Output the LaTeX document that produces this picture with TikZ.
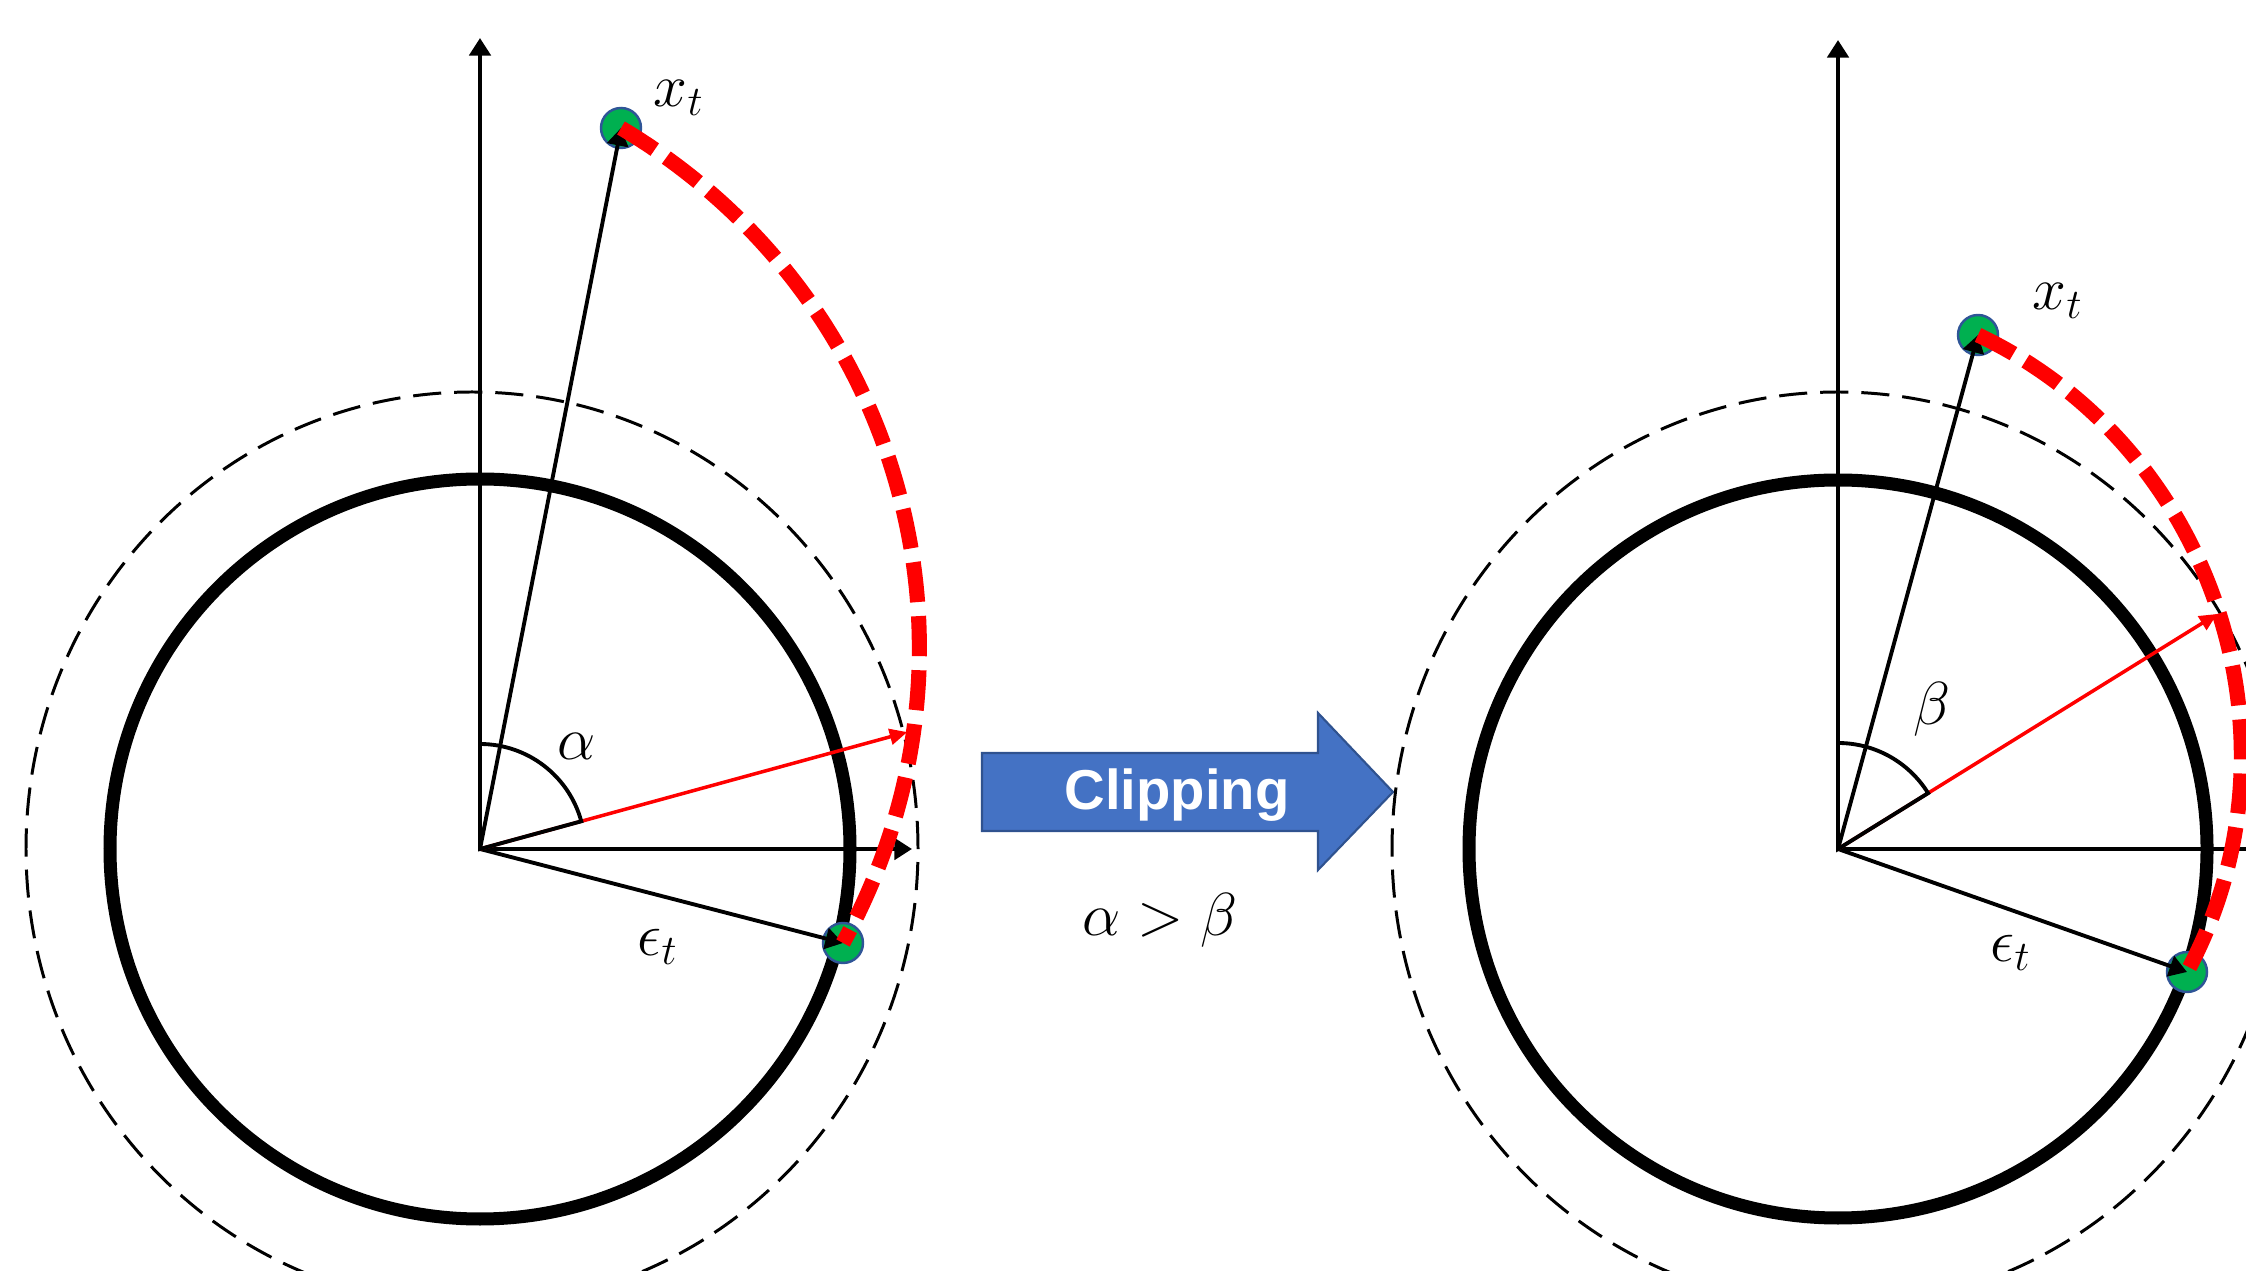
\documentclass[tikz,border=0pt]{standalone}
\usepackage{amsmath}
\usepackage{fontspec}
\usetikzlibrary{arrows.meta}
\newfontfamily\clipfont{Liberation Sans}

\definecolor{dotgreen}{RGB}{0,176,80}
\definecolor{dotblue}{RGB}{47,85,151}
\definecolor{blockblue}{RGB}{68,114,196}
\definecolor{blockline}{RGB}{47,82,143}

\tikzset{
  axis/.style={line width=1.3pt, -{Triangle[length=5pt,width=6pt]}},
  vec/.style={line width=1.1pt, -{Triangle[length=5pt,width=6pt]}},
  redvec/.style={red, line width=1pt, -{Triangle[length=5pt,width=4.5pt]}},
  unitcirc/.style={line width=3.7pt},
  bigcirc/.style={line width=0.85pt, dash pattern=on 8pt off 3.7pt},
  reddash/.style={red, line width=4.3pt, dash pattern=on 11.4pt off 4pt},
  wedge/.style={line width=1.1pt},
  sample/.style={circle, fill=dotgreen, draw=dotblue, line width=0.7pt,
    inner sep=0pt, minimum size=0.4cm},
  lab/.style={font=\fontsize{18}{22}\selectfont}
}

\begin{document}
\begin{tikzpicture}
                \useasboundingbox (0,0) rectangle (22.46,12.70);
                \clip (0,0) rectangle (22.46,12.70);

                % Origins
                \coordinate (o1) at (4.80,4.21);
                \coordinate (o2) at (18.38,4.21);

                % Left: circles
                \draw[bigcirc] (4.72,4.21) ellipse[x radius=4.46, y radius=4.57];
                \draw[unitcirc] (o1) circle[radius=3.70];

                % Left: axes
                \draw[axis] (o1) -- (4.80,12.32);
                \draw[axis] (o1) -- (9.12,4.21);

                % Left: samples
                \node[sample] (xt1) at (6.21,11.42) {};
                \node[sample] (ep1) at (8.43,3.27) {};
                \draw[vec] (o1) -- (xt1.center);
                \draw[vec] (o1) -- (ep1.center);

                % Left: angle
                \draw[redvec] (o1) -- ++(15.3:4.43);
                \draw[wedge] (o1) -- ++(90:1.05) arc[start angle=90, end angle=15.3, radius=1.05] -- cycle;
                \draw[reddash] (xt1.center) to[bend left=44] (ep1.center);

                % Left labels
                \node[lab] at (6.79,11.72) {$x_t$};
                \node[lab] at (5.77,5.24) {$\alpha$};
                \node[lab] at (6.58,3.23) {$\epsilon_t$};

                % Block arrow
                \filldraw[fill=blockblue, draw=blockline, line width=0.6pt]
                  (9.82,4.39) -- (13.18,4.39) -- (13.18,4.00) -- (13.93,4.78)
                  -- (13.18,5.57) -- (13.18,5.17) -- (9.82,5.17) -- cycle;
                \node[anchor=base, text=white, font=\clipfont\bfseries\fontsize{16}{19}\selectfont] at (11.77,4.60) {Clipping};
                \node[lab] at (11.60,3.50) {$\alpha > \beta$};

                % Right: circles
                \draw[bigcirc] (o2) ellipse[x radius=4.46, y radius=4.57];
                \draw[unitcirc] (o2) circle[radius=3.69];

                % Right: axes
                \draw[axis] (o2) -- (18.38,12.30);
                \draw[axis] (o2) -- (22.70,4.21);

                % Right: samples
                \node[sample] (xt2) at (19.78,9.35) {};
                \node[sample] (ep2) at (21.87,2.98) {};
                \draw[vec] (o2) -- (xt2.center);
                \draw[vec] (o2) -- (ep2.center);

                % Right: angle
                \draw[redvec] (o2) -- ++(31.8:4.46);
                \draw[wedge] (o2) -- ++(90:1.06) arc[start angle=90, end angle=31.8, radius=1.06] -- cycle;
                \draw[reddash] (xt2.center) to[bend left=46.5] (ep2.center);

                % Right labels
                \node[lab] at (20.58,9.69) {$x_t$};
                \node[lab] at (19.32,5.61) {$\beta$};
                \node[lab] at (20.11,3.17) {$\epsilon_t$};
            \end{tikzpicture}
\end{document}
